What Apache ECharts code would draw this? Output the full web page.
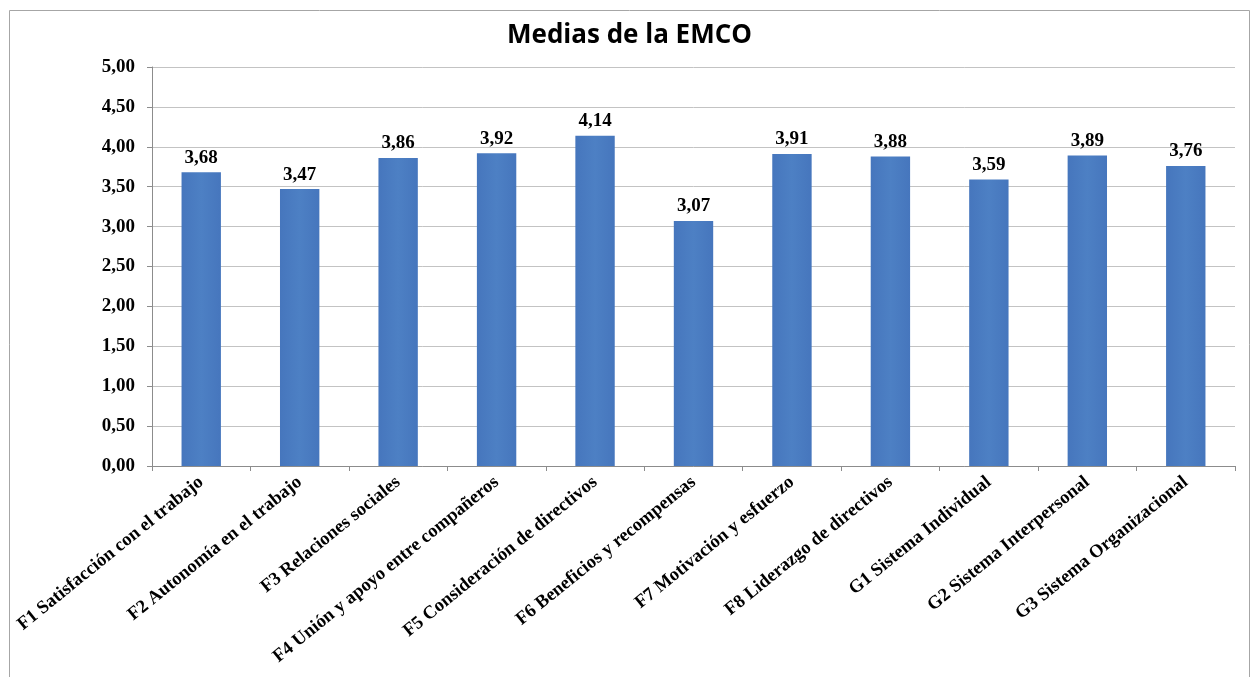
<!DOCTYPE html>
<html>
<head>
<meta charset="utf-8">
<script src="https://cdn.jsdelivr.net/npm/echarts@6/dist/echarts.min.js"></script>
<style>html,body{margin:0;padding:0;background:#fff}#c{width:1250px;height:677px}</style>
</head>
<body>
<div id="c"></div>
<script>
const titleText = "Medias de la EMCO";
const categories = [
  "F1 Satisfacción con el trabajo",
  "F2 Autonomía en el trabajo",
  "F3 Relaciones sociales",
  "F4 Unión y apoyo entre compañeros",
  "F5 Consideración de directivos",
  "F6 Beneficios y recompensas",
  "F7 Motivación y esfuerzo",
  "F8 Liderazgo de directivos",
  "G1 Sistema Individual",
  "G2 Sistema Interpersonal",
  "G3 Sistema Organizacional"
];
const means = [3.68, 3.47, 3.86, 3.92, 4.14, 3.07, 3.91, 3.88, 3.59, 3.89, 3.76];
const yMin = 0, yMax = 5, yStep = 0.5;

const fmt = v => v.toFixed(2).replace('.', ',');
const serif = "'Liberation Serif','Times New Roman',serif";
const chart = echarts.init(document.getElementById('c'));
chart.setOption({
  animation: false,
  backgroundColor: '#fff',
  graphic: [{
    type: 'rect', left: 7, top: 8, silent: true,
    shape: { width: 1240, height: 680 },
    style: { fill: 'none', stroke: '#a6a6a6', lineWidth: 1 }
  }],
  title: {
    text: titleText, left: 502, top: 18,
    textStyle: { fontFamily: "'Open Sans',sans-serif", fontWeight: 'bold', fontSize: 26, color: '#000' }
  },
  grid: { left: 152, right: 15, top: 67, bottom: 211, containLabel: false },
  xAxis: {
    type: 'category', data: categories,
    axisLine: { lineStyle: { color: '#8c8c8c', width: 1 } },
    axisTick: { show: true, length: 5, lineStyle: { color: '#8c8c8c' } },
    axisLabel: { rotate: 39, interval: 0, margin: 14, color: '#000', fontFamily: serif, fontWeight: 'bold', fontSize: 18.5 }
  },
  yAxis: {
    type: 'value', min: yMin, max: yMax, interval: yStep,
    axisLine: { show: true, lineStyle: { color: '#8c8c8c', width: 1 } },
    axisTick: { show: true, length: 5, lineStyle: { color: '#8c8c8c' } },
    splitLine: { lineStyle: { color: '#c3c3c3', width: 1 } },
    axisLabel: { formatter: fmt, margin: 17, color: '#000', fontFamily: serif, fontWeight: 'bold', fontSize: 19 }
  },
  series: [{
    type: 'bar', data: means, barWidth: '40%',
    itemStyle: {
      color: new echarts.graphic.LinearGradient(0, 0, 1, 0, [
        { offset: 0, color: '#4676bd' }, { offset: 0.5, color: '#4d80c4' }, { offset: 1, color: '#4676bd' }
      ])
    },
    label: {
      show: true, position: 'top', distance: 5, formatter: p => fmt(p.value),
      color: '#000', fontFamily: serif, fontWeight: 'bold', fontSize: 19
    }
  }]
});
</script>
</body>
</html>
